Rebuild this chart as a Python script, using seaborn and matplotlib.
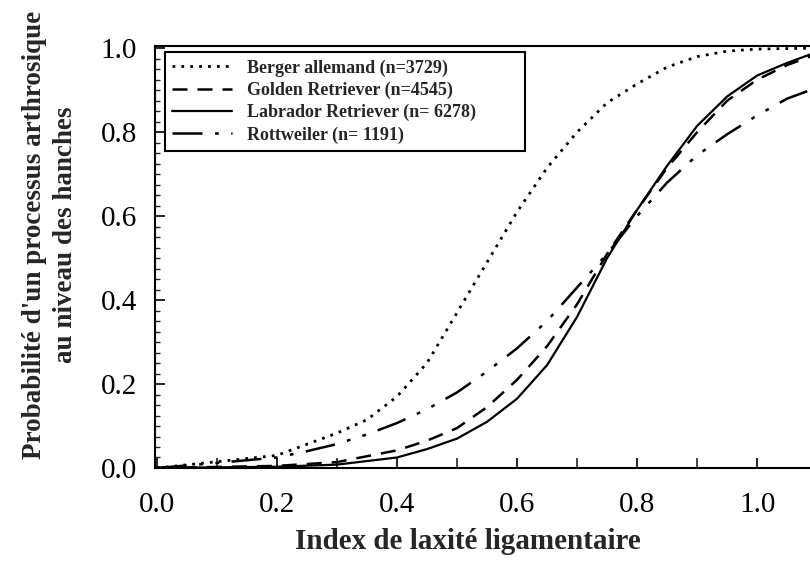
import matplotlib
matplotlib.use("Agg")
import matplotlib.pyplot as plt
from matplotlib.ticker import MultipleLocator
import seaborn as sns
import pandas as pd

# ---- data ----
x_berger = [0.0, 0.1, 0.2, 0.3, 0.35, 0.4, 0.45, 0.5, 0.55, 0.6, 0.65, 0.7, 0.75, 0.8, 0.85, 0.9, 0.95, 1.0, 1.088]
y_berger = [0.0, 0.015, 0.03, 0.083, 0.115, 0.17, 0.25, 0.37, 0.49, 0.61, 0.715, 0.80, 0.87, 0.915, 0.955, 0.98, 0.993, 0.998, 1.0]

x_golden = [0.0, 0.2, 0.3, 0.4, 0.45, 0.5, 0.55, 0.6, 0.65, 0.7, 0.75, 0.8, 0.85, 0.9, 0.95, 1.0, 1.05, 1.088]
y_golden = [0.0, 0.005, 0.014, 0.042, 0.065, 0.095, 0.145, 0.21, 0.29, 0.39, 0.51, 0.615, 0.715, 0.80, 0.875, 0.925, 0.96, 0.98]

x_labrador = [0.0, 0.2, 0.3, 0.4, 0.45, 0.5, 0.55, 0.6, 0.65, 0.7, 0.75, 0.8, 0.85, 0.9, 0.95, 1.0, 1.05, 1.088]
y_labrador = [0.0, 0.003, 0.008, 0.025, 0.045, 0.07, 0.11, 0.165, 0.245, 0.36, 0.50, 0.615, 0.72, 0.815, 0.885, 0.935, 0.965, 0.985]

x_rott = [0.0, 0.1, 0.2, 0.25, 0.3, 0.35, 0.4, 0.45, 0.5, 0.55, 0.6, 0.65, 0.7, 0.75, 0.8, 0.85, 0.9, 0.95, 1.0, 1.05, 1.088]
y_rott = [0.0, 0.012, 0.025, 0.04, 0.057, 0.08, 0.107, 0.14, 0.18, 0.23, 0.285, 0.35, 0.43, 0.51, 0.60, 0.68, 0.745, 0.795, 0.84, 0.88, 0.90]

labels = ["Berger allemand (n=3729)", "Golden Retriever (n=4545)",
          "Labrador Retriever (n= 6278)", "Rottweiler (n= 1191)"]
xticks = [0.0, 0.2, 0.4, 0.6, 0.8, 1.0]
yticks = [0.0, 0.2, 0.4, 0.6, 0.8, 1.0]

series = [(x_berger, y_berger), (x_golden, y_golden), (x_labrador, y_labrador), (x_rott, y_rott)]
styles = [(0, (1, 2.2)), (0, (6, 4)), "-", (0, (12, 5, 1.5, 5, 1.5, 5))]
widths = [2.0, 1.8, 1.6, 1.8]

sns.set_theme(style="white")
plt.rcParams["font.family"] = ["Liberation Serif", "DejaVu Serif"]

fig = plt.figure(figsize=(8.1, 5.61), dpi=100)
ax = fig.add_axes([0.1914, 0.1658, 0.8086, 0.752])

for (xs, ys), lab, ls, lw in zip(series, labels, styles, widths):
    df = pd.DataFrame({"x": xs, "y": ys})
    sns.lineplot(data=df, x="x", y="y", ax=ax, color="black", linestyle=ls,
                 linewidth=lw, label=lab, estimator=None)

ax.set_xlim(-0.003, 1.088)
ax.set_ylim(0, 1.005)
ax.set_xticks(xticks)
ax.set_xticklabels([f"{t:.1f}" for t in xticks])
ax.set_yticks(yticks)
ax.set_yticklabels([f"{t:.1f}" for t in yticks])
ax.xaxis.set_minor_locator(MultipleLocator(0.1))
ax.yaxis.set_minor_locator(MultipleLocator(0.025))
ax.tick_params(axis="both", which="major", direction="in", length=7, width=1.2,
               labelsize=21, colors="black", left=True, bottom=True)
ax.tick_params(axis="x", which="major", pad=17)
ax.tick_params(axis="y", which="major", pad=13)
ax.tick_params(axis="x", which="minor", direction="in", length=7, width=1.2, bottom=True)
ax.tick_params(axis="y", which="minor", direction="in", length=3.5, width=1.0, left=True)

for s in ["left", "bottom", "top"]:
    ax.spines[s].set_color("black")
    ax.spines[s].set_linewidth(1.5)
ax.spines["right"].set_visible(False)

ax.set_xlabel("Index de laxité ligamentaire", fontsize=21, fontweight="bold")
ax.xaxis.set_label_coords(0.478, -0.142)
ax.set_ylabel("Probabilité d'un processus arthrosique\nau niveau des hanches",
              fontsize=19.5, fontweight="bold", multialignment="center", linespacing=1.3)
ax.yaxis.set_label_coords(-0.118, 0.552)

leg = ax.legend(loc="upper left", bbox_to_anchor=(0.0153, 0.5, 0.55, 0.486),
                mode="expand", borderaxespad=0, frameon=True,
                fancybox=False, edgecolor="black", framealpha=1,
                prop={"family": ["Liberation Serif"], "weight": "bold", "size": 13},
                handlelength=3.3, borderpad=0.4, labelspacing=0.28, handletextpad=0.85)
leg.get_frame().set_linewidth(1.5)

fig.savefig("out.png", dpi=100)
